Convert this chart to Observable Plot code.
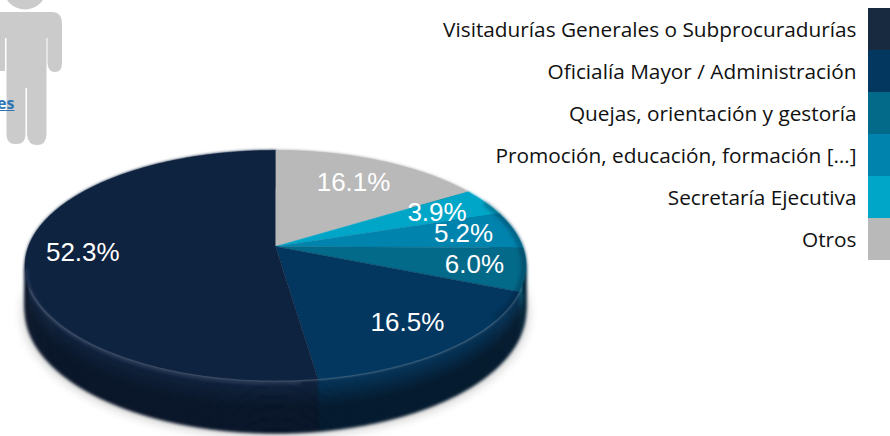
<!DOCTYPE html>
<html lang="es">
<head>
<meta charset="utf-8">
<script src="https://cdn.jsdelivr.net/npm/d3@7"></script>
<script src="https://cdn.jsdelivr.net/npm/@observablehq/plot@0.6"></script>
<style>
  html, body { margin: 0; padding: 0; background: #fff; }
  #stage { position: relative; width: 890px; height: 436px; overflow: hidden; }
  #stage > svg { position: absolute; left: 0; top: 0; }
  #person { position: absolute; left: 0; top: 0; }
  #link { position: absolute; left: -3px; top: 93px; font-family: "Open Sans", sans-serif; font-weight: 700; font-size: 16px; line-height: 20px; color: #2f75b5; text-decoration: underline; }
  .soft { filter: blur(5px); }
  .edge { filter: blur(1.5px); }
  .glow { filter: blur(1.6px); }
  .rimshade { filter: blur(2px); }
</style>
</head>
<body>
<div id="stage">
  <svg id="person" width="70" height="150" viewBox="0 0 70 150">
    <circle cx="25" cy="-12" r="21.5" fill="#cbcbcb"/>
    <path fill="#cbcbcb" d="M-10 12H52Q62 12 62 24V63Q62 72 55 72Q48 72 47.500 63V38H46.500V135Q46 145 37 145Q28 145 27 135V88H25.500V135Q25 145 15 144Q7 144 6.500 135V38H5V71H-10Z"/>
  </svg>
  <div id="link">es</div>
</div>
<script>
// Values (clockwise from the top of the pie)
const categories = ["Otros", "Secretaría Ejecutiva", "Promoción, educación, formación […]", "Quejas, orientación y gestoría", "Oficialía Mayor / Administración", "Visitadurías Generales o Subprocuradurías"];
const shares = [16.1, 3.9, 5.2, 6.0, 16.5, 52.3];
const colours = ["#b9b9b9", "#00a6c8", "#0083ad", "#046a8a", "#03375f", "#0e2340"];
const legendColours = ["#182a40", "#03375f", "#046a8a", "#0083ad", "#00a6c8", "#b9b9b9"];
const legendOrder = ["Visitadurías Generales o Subprocuradurías", "Oficialía Mayor / Administración", "Quejas, orientación y gestoría", "Promoción, educación, formación […]", "Secretaría Ejecutiva", "Otros"];

// Perspective view of a unit disc: far edge shrinks, near edge grows
const tilt = 0.165, squash = 112 / 247, depth = 44 / 247;
const view = (t, r = 1, d = 0) => {
  const w = 1 + tilt * r * Math.cos(t);
  return {x: r * Math.sin(t) / w, y: (r * Math.cos(t) * squash - d) / w};
};
const total = d3.sum(shares);
let running = 0;
const slices = shares.map((v, i) => {
  const t0 = running / total * 2 * Math.PI;
  running += v;
  return {i, v, name: categories[i], colour: colours[i], t0, t1: running / total * 2 * Math.PI};
});
const arcAngles = (s) => {
  const n = Math.max(2, Math.ceil((s.t1 - s.t0) / 0.015));
  return d3.range(n + 1).map((k) => s.t0 + (s.t1 - s.t0) * k / n);
};

// Top faces
const facePoints = slices.flatMap((s) => [
  {...view(0, 0), key: s.i, colour: s.colour},
  ...arcAngles(s).map((t) => ({...view(t), key: s.i, colour: s.colour}))
]);

// Side wall, split in bands that darken with distance from the rim
const bands = 16;
const sidePoints = slices.flatMap((s) => d3.range(bands).flatMap((b) => {
  const f0 = b / bands, f1 = (b + 1) / bands;
  const mix = Math.min(0.8, 0.12 + f0 * 1.3);
  const colour = d3.interpolateRgb(s.colour, s.i === 5 ? "#040f1f" : "#01101f")(mix);
  const ts = arcAngles(s);
  const key = `${s.i}-${b}`;
  return [
    ...ts.map((t) => ({...view(t, 1, depth * f0), key, colour})),
    ...ts.slice().reverse().map((t) => ({...view(t, 1, depth * f1), key, colour}))
  ];
}));

// Soft shadow under the pie, highlight along the near rim, shade on the right rim
const shadowPoints = d3.range(0, 2 * Math.PI + 0.02, 0.02).map((t) => view(t, 1.012, depth * 1.04));
const last = slices[5];
const glowPoints = d3.range(last.t0 + 0.06, last.t0 + 1.55, 0.02).map((t) => view(t, 0.995, 0.012));
const rimPoints = d3.range(1.15, 2.2, 0.02).map((t) => view(t, 0.992));

// Label reach along each slice's middle angle
const labelReach = [0.72, 0.76, 0.785, 0.80, 0.78, 0.775];
const labels = slices.map((s) => ({
  ...view((s.t0 + s.t1) / 2, labelReach[s.i]),
  text: s.v.toFixed(1) + "%"
}));

const unit = 247, cx = 275, cy = 246;
const pie = Plot.plot({
  width: 890, height: 436, margin: 0,
  style: {background: "transparent"},
  x: {domain: [-cx / unit, (890 - cx) / unit], range: [0, 890], axis: null},
  y: {domain: [cy / unit, (cy - 436) / unit], range: [0, 436], axis: null},
  color: {type: "identity"},
  marks: [
    Plot.line(shadowPoints, {x: "x", y: "y", fill: "#d4d4d4", stroke: "none", className: "soft"}),
    Plot.line(sidePoints, {x: "x", y: "y", z: "key", fill: "colour", stroke: "colour", strokeWidth: 0.6, className: "edge"}),
    Plot.line(facePoints, {x: "x", y: "y", z: "key", fill: "colour", stroke: "colour", strokeWidth: 0.5}),
    Plot.line(rimPoints, {x: "x", y: "y", stroke: "#021a30", strokeWidth: 3, strokeOpacity: 0.55, className: "rimshade"}),
    Plot.line(glowPoints, {x: "x", y: "y", stroke: "#3a4a6a", strokeWidth: 2, strokeOpacity: 0.75, className: "glow"}),
    Plot.text(labels, {x: "x", y: "y", text: "text", fill: "#fff", fontSize: 26, fontFamily: "Liberation Sans"})
  ]
});

const legend = Plot.plot({
  width: 890, height: 436, margin: 0,
  style: {background: "transparent"},
  x: {domain: [0, 1], range: [868, 890], axis: null},
  y: {type: "band", domain: legendOrder, range: [5, 262], padding: 0, axis: null},
  color: {type: "identity"},
  marks: [
    Plot.barX(legendOrder, {y: (d) => d, x1: 0, x2: 1, fill: (d, i) => legendColours[i]}),
    Plot.text(legendOrder, {y: (d) => d, x: 0, dx: -12, dy: 1, textAnchor: "end", text: (d) => d, fill: "#111", fontSize: 20.8, fontFamily: "Open Sans"})
  ]
});

const stage = document.getElementById("stage");
stage.appendChild(pie);
stage.appendChild(legend);
</script>
</body>
</html>
